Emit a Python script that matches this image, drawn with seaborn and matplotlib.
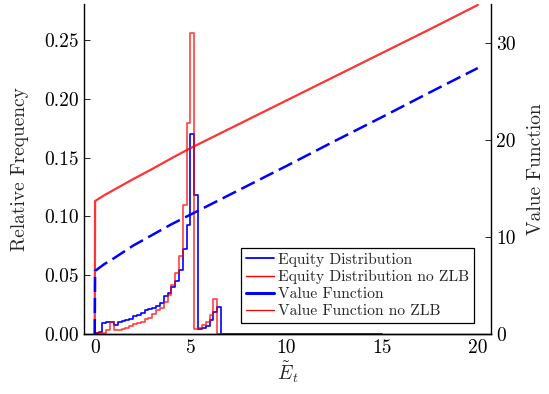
import numpy as np
import pandas as pd
import matplotlib
matplotlib.use("Agg")
import matplotlib.pyplot as plt
import seaborn as sns
from matplotlib.lines import Line2D

# ---------------- data ----------------
bin_width = 0.2
n_bins = 75  # histogram covers 0 .. 15
hist_edges = list(np.round(np.arange(n_bins + 1) * bin_width, 4))
hist_centers = [e + bin_width / 2 for e in hist_edges[:-1]]

equity_zlb = [0.001, 0.002, 0.009, 0.010, 0.010, 0.008, 0.0105, 0.011, 0.012, 0.013,
              0.015, 0.016, 0.018, 0.020, 0.021, 0.022, 0.024, 0.026, 0.032, 0.035,
              0.040, 0.045, 0.054, 0.072, 0.093, 0.170, 0.118, 0.004, 0.0055, 0.007,
              0.012, 0.019, 0.023] + [0.0] * 42
equity_nozlb = [0.0005, 0.0007, 0.001, 0.003, 0.010, 0.0035, 0.003, 0.004, 0.0055, 0.007,
                0.0085, 0.009, 0.010, 0.0125, 0.014, 0.017, 0.020, 0.022, 0.027, 0.033,
                0.042, 0.052, 0.066, 0.110, 0.179, 0.256, 0.004, 0.0055, 0.0075, 0.010,
                0.016, 0.030] + [0.0] * 43

vf_x = [0.0, 0.02, 0.5, 1.0, 2.0, 3.0, 4.0, 5.0, 7.5, 10.0, 12.5, 15.0, 17.5, 20.0]
vf_zlb = [0.0, 6.5, 7.2, 7.8, 9.1, 10.2, 11.3, 12.3, 14.8, 17.3, 19.85, 22.35, 24.9, 27.4]
vf_nozlb = [0.0, 13.7, 14.3, 14.85, 15.95, 17.0, 18.1, 19.15, 21.6, 24.05, 26.5, 28.95, 31.4, 33.9]

hist_df = pd.DataFrame({"x": hist_centers, "zlb": equity_zlb, "nozlb": equity_nozlb})

# ---------------- style ----------------
sns.set_style("white")
plt.rcParams["font.family"] = ["cmr10", "DejaVu Serif"]
plt.rcParams["mathtext.fontset"] = "cm"
plt.rcParams["axes.formatter.use_mathtext"] = True

fig = plt.figure(figsize=(5.49, 3.94), dpi=100)
ax = fig.add_axes([84 / 549, 60 / 394, 407 / 549, 330 / 394])
ax2 = ax.twinx()

red = (1.0, 0.0, 0.0)
blue = (0.0, 0.0, 1.0)

sns.histplot(data=hist_df, x="x", weights="zlb", bins=hist_edges, element="step",
             fill=False, color=blue, linewidth=1.2, ax=ax)
sns.histplot(data=hist_df, x="x", weights="nozlb", bins=hist_edges, element="step",
             fill=False, color=red, alpha=0.75, linewidth=1.2, ax=ax)

sns.lineplot(x=vf_x, y=vf_nozlb, color=red, alpha=0.8, linewidth=1.6,
             estimator=None, sort=False, ax=ax2)
sns.lineplot(x=vf_x, y=vf_zlb, color=blue, linewidth=1.8,
             estimator=None, sort=False, ax=ax2)
ax2.lines[-1].set_dashes((6, 2.4))

ax.set_xlim(-0.56, 20.69)
ax.set_ylim(0, 0.2806)
ax2.set_ylim(0, 34.0)
ax.set_xticks([0, 5, 10, 15, 20])
ax.set_xticklabels(["0", "5", "10", "15", "20"])
ax.set_yticks([0.0, 0.05, 0.10, 0.15, 0.20, 0.25])
ax.set_yticklabels(["0.00", "0.05", "0.10", "0.15", "0.20", "0.25"])
ax2.set_yticks([0, 10, 20, 30])
ax2.set_yticklabels(["0", "10", "20", "30"])

for a in (ax, ax2):
    a.spines["top"].set_visible(False)
    for s in ("left", "right", "bottom"):
        a.spines[s].set_color("black")
        a.spines[s].set_linewidth(1.0)
    a.tick_params(direction="in", length=4, width=0.6, labelsize=14, colors="black")
    a.set_facecolor("none")
ax2.spines["left"].set_visible(False)
ax.spines["right"].set_visible(False)

ax.set_xlabel(r"$\tilde{E}_t$", fontsize=14, labelpad=2)
ax.set_ylabel("Relative Frequency", fontsize=14)
ax2.set_ylabel("Value Function", fontsize=14)
ax.yaxis.set_label_coords(-(84 - 29) / 407, 0.5)
ax2.yaxis.set_label_coords(1 + (527 - 491) / 407, 0.5)

handles = [
    Line2D([], [], color=blue, linewidth=1.3),
    Line2D([], [], color=red, linewidth=1.0),
    Line2D([], [], color=blue, linewidth=2.2),
    Line2D([], [], color=red, linewidth=0.9),
]
labels = ["Equity Distribution", "Equity Distribution no ZLB",
          "Value Function", "Value Function no ZLB"]
leg = ax2.legend(handles, labels, loc="lower right", bbox_to_anchor=(0.958, 0.033),
                 fontsize=11.2, frameon=True, fancybox=False, edgecolor="black",
                 framealpha=1, handlelength=1.76, handletextpad=0.27,
                 labelspacing=0.2, borderpad=0.32, borderaxespad=0)
leg.get_frame().set_linewidth(0.9)

fig.savefig("out.png", dpi=100)
